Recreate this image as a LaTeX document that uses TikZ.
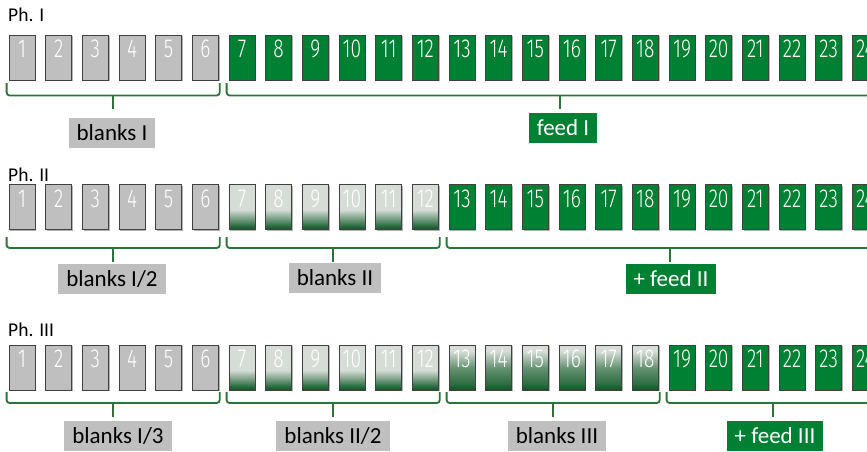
\documentclass[tikz,border=0pt]{standalone}
\usepackage{fontspec}
\setmainfont{Carlito}
\newfontfamily\cellfont[FakeStretch=0.74]{Fira Sans Light}
\usetikzlibrary{calc,shadows}

\definecolor{cellgray}{HTML}{BFBFBF}
\definecolor{feedgreen}{HTML}{008033}
\definecolor{bracegreen}{HTML}{2A7439}
\definecolor{fadelight}{HTML}{D5DDD6}
\definecolor{fadedark}{HTML}{0C5623}

% washed-out green cells: light top, dark foot
\pgfdeclareverticalshading{fadeII}{100bp}{color(0bp)=(fadedark); color(25bp)=(fadedark);
  color(29bp)=(fadedark!85!fadelight); color(47bp)=(fadelight); color(100bp)=(fadelight)}
\pgfdeclareverticalshading{fadeIII}{100bp}{color(0bp)=(fadedark); color(25bp)=(fadedark);
  color(31bp)=(fadedark!85!fadelight); color(50bp)=(fadedark!55!fadelight);
  color(68bp)=(fadelight); color(100bp)=(fadelight)}

\tikzset{
    cell/.style={draw=black!75, line width=0.8pt, minimum width=26pt, minimum height=45pt,
        inner sep=0pt, text height=0pt, text depth=0pt, text=white,
        font=\cellfont\fontsize{26}{26}\selectfont,
        drop shadow={shadow xshift=1.4pt, shadow yshift=-1.4pt, opacity=.3, fill=black}},
    blankcell/.style={cell, fill=cellgray},
    feedcell/.style={cell, fill=feedgreen},
    fadecell/.style={cell, shading=fadeII},
    darkfadecell/.style={cell, shading=fadeIII},
    tag/.style={minimum height=30pt, inner xsep=8pt, inner ysep=0pt,
        font=\fontsize{23}{23}\selectfont},
    blanktag/.style={tag, fill=cellgray, text=black},
    feedtag/.style={tag, fill=feedgreen, text=white},
    phasetitle/.style={font=\fontsize{19.5}{19.5}\selectfont, anchor=base west, inner sep=0pt},
    bracket/.style={draw=bracegreen, line width=1.8pt, rounded corners=3pt}
}

% group bracket under a run of cells: left cell, right anchor, top y, bar y
\newcommand{\grpbracket}[4]{%
  \coordinate (bl) at ($(#1.west |- 0,#3)+(-2,0)$);
  \coordinate (br) at ($(#2 |- 0,#3)+(1,0)$);
  \draw[bracket] (bl) -- (bl |- 0,#4) -- (br |- 0,#4) -- (br);
  \draw[bracket, rounded corners=0pt] ($(bl |- 0,#4)!.5!(br |- 0,#4)$) -- ++(0,13.5);
}

\begin{document}
\begin{tikzpicture}[x=1pt,y=-1pt]
\useasboundingbox (0,0) rectangle (867,452);
\clip (0,0) rectangle (867,452);

% Phase I
\node[phasetitle] (ph1) at (8,22) {Ph. I};
\foreach \i in {1,...,6}
    \node[blankcell] (p1b\i) at ({22+36.667*(\i-1)},57.5) {\i};
\foreach \i in {7,...,24}
    \node[feedcell] (p1b\i) at ({22+36.667*(\i-1)},57.5) {\i};
\coordinate (p1end) at (892,57.5);

\grpbracket{p1b1}{p1b6.east}{83}{95.5}
\grpbracket{p1b7}{p1end}{83}{95.5}
\node[blanktag] (blanksI) at (112,133) {blanks I};
\node[feedtag] (feedI) at (563,128) {feed I};

% Phase II
\node[phasetitle] (ph2) at (8,181) {Ph. II};
\foreach \i in {1,...,6}
    \node[blankcell] (p2b\i) at ({22+36.667*(\i-1)},207) {\i};
\foreach \i in {7,...,12}
    \node[fadecell] (p2b\i) at ({22+36.667*(\i-1)},207) {\i};
\foreach \i in {13,...,24}
    \node[feedcell] (p2b\i) at ({22+36.667*(\i-1)},207) {\i};
\coordinate (p2end) at (892,207);

\grpbracket{p2b1}{p2b6.east}{237}{248}
\grpbracket{p2b7}{p2b12.east}{237}{248}
\grpbracket{p2b13}{p2end}{237}{248}
\node[blanktag] (blanksIhalf) at (112,279) {blanks I/2};
\node[blanktag] (blanksII) at (335,278) {blanks II};
\node[feedtag] (feedII) at (671,279) {+ feed II};

% Phase III
\node[phasetitle] (ph3) at (8,336) {Ph. III};
\foreach \i in {1,...,6}
    \node[blankcell] (p3b\i) at ({22+36.667*(\i-1)},367.5) {\i};
\foreach \i in {7,...,12}
    \node[fadecell] (p3b\i) at ({22+36.667*(\i-1)},367.5) {\i};
\foreach \i in {13,...,18}
    \node[darkfadecell] (p3b\i) at ({22+36.667*(\i-1)},367.5) {\i};
\foreach \i in {19,...,24}
    \node[feedcell] (p3b\i) at ({22+36.667*(\i-1)},367.5) {\i};
\coordinate (p3end) at (878,367.5);

\grpbracket{p3b1}{p3b6.east}{392}{403}
\grpbracket{p3b7}{p3b12.east}{392}{403}
\grpbracket{p3b13}{p3b18.east}{392}{403}
\grpbracket{p3b19}{p3end}{392}{403}
\node[blanktag] (blanksIthird) at (118,436) {blanks I/3};
\node[blanktag] (blanksIIhalf) at (333,436) {blanks II/2};
\node[blanktag] (blanksIII) at (557,436) {blanks III};
\node[feedtag] (feedIII) at (775,436) {+ feed III};

\end{tikzpicture}
\end{document}
